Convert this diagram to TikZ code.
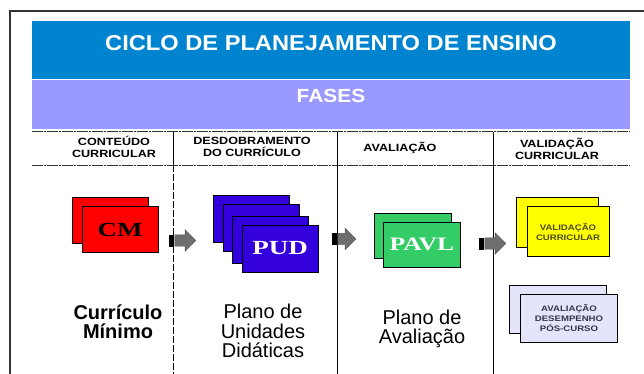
\documentclass[tikz,border=0pt]{standalone}
\usepackage{fontspec}
\setmainfont{Liberation Sans}
\newfontfamily\boxserif[FakeStretch=1.35]{Liberation Serif}
\newfontfamily\widesans[FakeStretch=1.1]{Liberation Sans}
\newfontfamily\capsans[FakeStretch=1.2]{Liberation Sans}
\usetikzlibrary{positioning,shapes.arrows}
\definecolor{headBlue}{HTML}{0084CF}
\definecolor{faseLilac}{HTML}{9999FF}
\definecolor{cmRed}{HTML}{FF0000}
\definecolor{pudBlue}{HTML}{3300DD}
\definecolor{pavlGreen}{HTML}{33CC66}
\definecolor{valYellow}{HTML}{FFFF00}
\definecolor{avalLav}{HTML}{E4E4FA}
\definecolor{oliveInk}{HTML}{4A4A10}
\definecolor{slateInk}{HTML}{333350}
\definecolor{arrowGray}{HTML}{6E6E6E}
\definecolor{frameGray}{HTML}{333333}

\begin{document}
\begin{tikzpicture}[
    x=1pt, y=-1pt,
    banner/.style={fill=#1, draw=none, minimum width=598pt, inner sep=0pt},
    colhead/.style={align=center, font=\capsans\fontsize{10.5}{12}\selectfont\bfseries},
    card/.style={draw=black, line width=0.9pt, fill=#1, inner sep=0pt},
    cmcard/.style={card=cmRed, minimum width=76pt, minimum height=46pt, font=\boxserif\bfseries\fontsize{20}{20}\selectfont},
    pudcard/.style={card=pudBlue, minimum width=76pt, minimum height=47pt, font=\boxserif\bfseries\fontsize{20}{20}\selectfont\color{white}},
    pavlcard/.style={card=pavlGreen, minimum width=77pt, minimum height=45pt, font=\boxserif\bfseries\fontsize{19}{19}\selectfont\color{white}},
    valcard/.style={card=valYellow, minimum width=82pt, minimum height=50pt, align=center, font=\capsans\fontsize{8}{10}\selectfont\bfseries\color{oliveInk}},
    avalcard/.style={card=avalLav, minimum width=97pt, minimum height=48pt, align=center, font=\capsans\fontsize{8}{10}\selectfont\bfseries\color{slateInk}},
    bigtext/.style={align=center, font=\fontsize{20}{19.5}\selectfont},
    blockarrow/.style={single arrow, fill=arrowGray, draw=black!70, line width=0.4pt, inner xsep=0pt, inner ysep=5.5pt, minimum height=#1, single arrow head extend=5pt},
    arrowtail/.style={fill=black, inner sep=0pt, minimum width=5pt, minimum height=12pt},
    sepline/.style={frameGray, line width=1pt, dash pattern=on 11pt off 1pt on 2pt off 1pt},
    colline/.style={black, line width=1pt}
  ]
    \useasboundingbox (0,0) rectangle (644,374);

    % Frame
    \draw[frameGray, line width=1.3pt] (10,374) -- (10,11) -- (644,11);

    % Banners
    \node[banner=headBlue, minimum height=58pt] (titulo) at (331,50) {};
    \node[font=\widesans\bfseries\fontsize{21.5}{21.5}\selectfont\color{white}] (tituloTxt) at (331,43) {CICLO DE PLANEJAMENTO DE ENSINO};
    \node[banner=faseLilac, minimum height=49pt] (fases) at (331,105) {};
    \node[font=\widesans\bfseries\fontsize{19}{19}\selectfont\color{white}] (fasesTxt) at (331,96) {FASES};

    % Column lines
    \draw[sepline] (32,132) -- (630,132);
    \draw[sepline] (32,165) -- (630,165);
    \draw[colline] (173,132) -- (173,165);
    \draw[colline, dash pattern=on 7pt off 2pt] (173,165) -- (173,374);
    \draw[colline] (337,132) -- (337,374);
    \draw[colline] (493,132) -- (493,374);

    % Column heads
    \node[colhead] (hCont) at (114,147) {CONTEÚDO\\CURRICULAR};
    \node[colhead] (hDesd) at (252,147) {DESDOBRAMENTO\\DO CURRÍCULO};
    \node[colhead] (hAval) at (400,148) {AVALIAÇÃO};
    \node[colhead] (hVal) at (557,149) {VALIDAÇÃO\\CURRICULAR};

    % Cards
    \node[cmcard] (cm1) at (110,220) {};
    \node[cmcard] (cm2) at (120,229.5) {CM};
    \node[pudcard] (pud1) at (251,219) {};
    \node[pudcard] (pud2) at (261,228) {};
    \node[pudcard] (pud3) at (270,240) {};
    \node[pudcard] (pud4) at (280,248.5) {PUD};
    \node[pavlcard] (pavl1) at (412.5,235.5) {};
    \node[pavlcard] (pavl2) at (422,244.5) {PAVL};
    \node[valcard] (val1) at (557,222) {};
    \node[valcard] (val2) at (568,231.5) {VALIDAÇÃO\\CURRICULAR};
    \node[avalcard] (aval1) at (557.5,309.5) {};
    \node[avalcard] (aval2) at (569,318) {AVALIAÇÃO\\DESEMPENHO\\PÓS-CURSO};

    % Block arrows
    \node[blockarrow=21pt] (arr1) at (182.5,240.5) {};
    \node[arrowtail, anchor=east] (tail1) at (arr1.tail) {};
    \node[blockarrow=18pt] (arr2) at (344,239) {};
    \node[arrowtail, anchor=east] (tail2) at (arr2.tail) {};
    \node[blockarrow=21pt] (arr3) at (492.5,243.5) {};
    \node[arrowtail, anchor=east] (tail3) at (arr3.tail) {};

    % Labels
    \node[bigtext, font=\fontsize{20}{19}\selectfont\bfseries] (curr) at (118,322) {Currículo\\Mínimo};
    \node[bigtext] (planoUD) at (263,331) {Plano de\\Unidades\\Didáticas};
    \node[bigtext] (planoAv) at (422,329) {Plano de\\Avaliação};
  \end{tikzpicture}
\end{document}
